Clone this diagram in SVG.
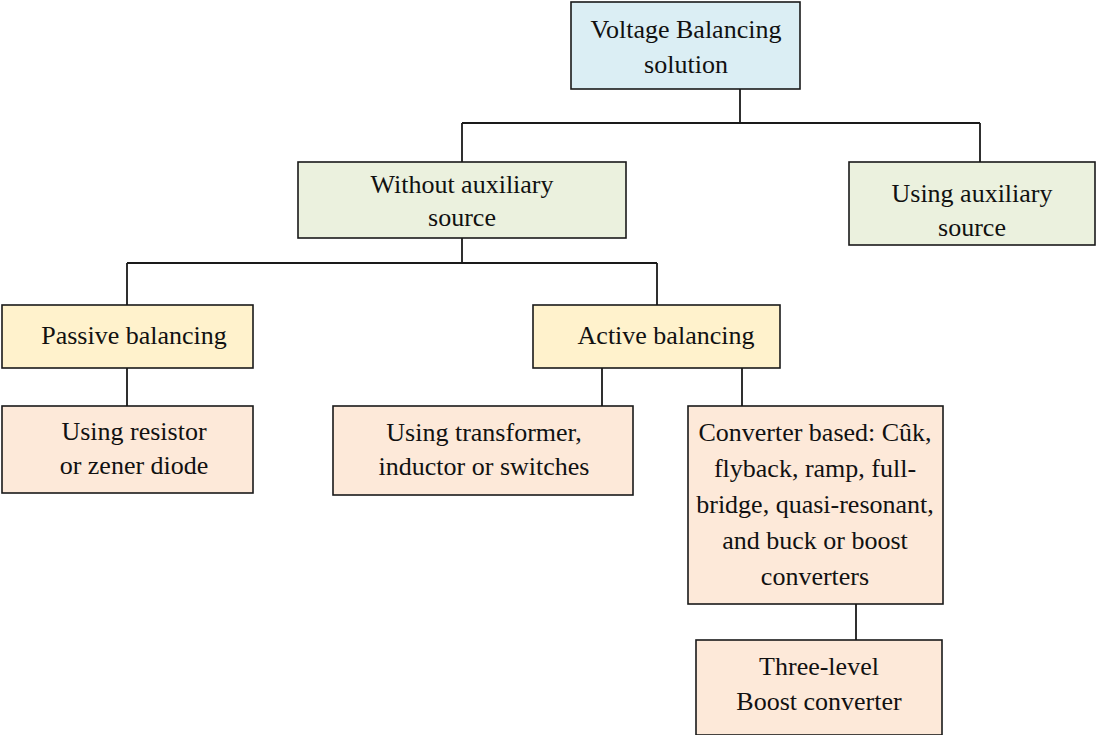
<svg xmlns="http://www.w3.org/2000/svg" width="1110" height="735" viewBox="0 0 1110 735">
<style>
.box{stroke:#1a1a1a;stroke-width:1.6}
.b{fill:#dbeef4}.g{fill:#ebf1de}.y{fill:#fff2cc}.p{fill:#fde9d9}
text{font-family:"Liberation Serif","Times New Roman",serif;font-size:26px;fill:#111;text-anchor:middle}
.c{stroke:#1a1a1a;stroke-width:1.8;fill:none}
</style>
<rect width="1110" height="735" fill="#fff"/>
<g id="connectors">
<path class="c" d="M740,89V123M462,123H980M462,123V162M980,123V162"/>
<path class="c" d="M462,238V263M127,263H657M127,263V305M657,263V305"/>
<path class="c" d="M127,368V406M602,368V406M742,368V406M856,604V640"/>
</g>
<g id="n1"><rect class="box b" x="571" y="2" width="229" height="87"/><text x="686" y="38">Voltage Balancing</text><text x="686" y="73">solution</text></g>
<g id="n2"><rect class="box g" x="298" y="162" width="328" height="76"/><text x="462" y="193">Without auxiliary</text><text x="462" y="226">source</text></g>
<g id="n3"><rect class="box g" x="849" y="162" width="246" height="83"/><text x="972" y="202">Using auxiliary</text><text x="972" y="236">source</text></g>
<g id="n4"><rect class="box y" x="2" y="305" width="251" height="63"/><text x="134" y="344">Passive balancing</text></g>
<g id="n5"><rect class="box y" x="533" y="305" width="247" height="63"/><text x="666" y="344">Active balancing</text></g>
<g id="n6"><rect class="box p" x="2" y="406" width="251" height="87"/><text x="134" y="440">Using resistor</text><text x="134" y="474">or zener diode</text></g>
<g id="n7"><rect class="box p" x="333" y="406" width="300" height="89"/><text x="484" y="441">Using transformer,</text><text x="484" y="475">inductor or switches</text></g>
<g id="n8"><rect class="box p" x="688" y="406" width="255" height="198"/><text x="815" y="441">Converter based: Cûk,</text><text x="815" y="477">flyback, ramp, full-</text><text x="815" y="513">bridge, quasi-resonant,</text><text x="815" y="549">and buck or boost</text><text x="815" y="585">converters</text></g>
<g id="n9"><rect class="box p" x="696" y="640" width="246" height="95"/><text x="819" y="675">Three-level</text><text x="819" y="710">Boost converter</text></g>
</svg>
